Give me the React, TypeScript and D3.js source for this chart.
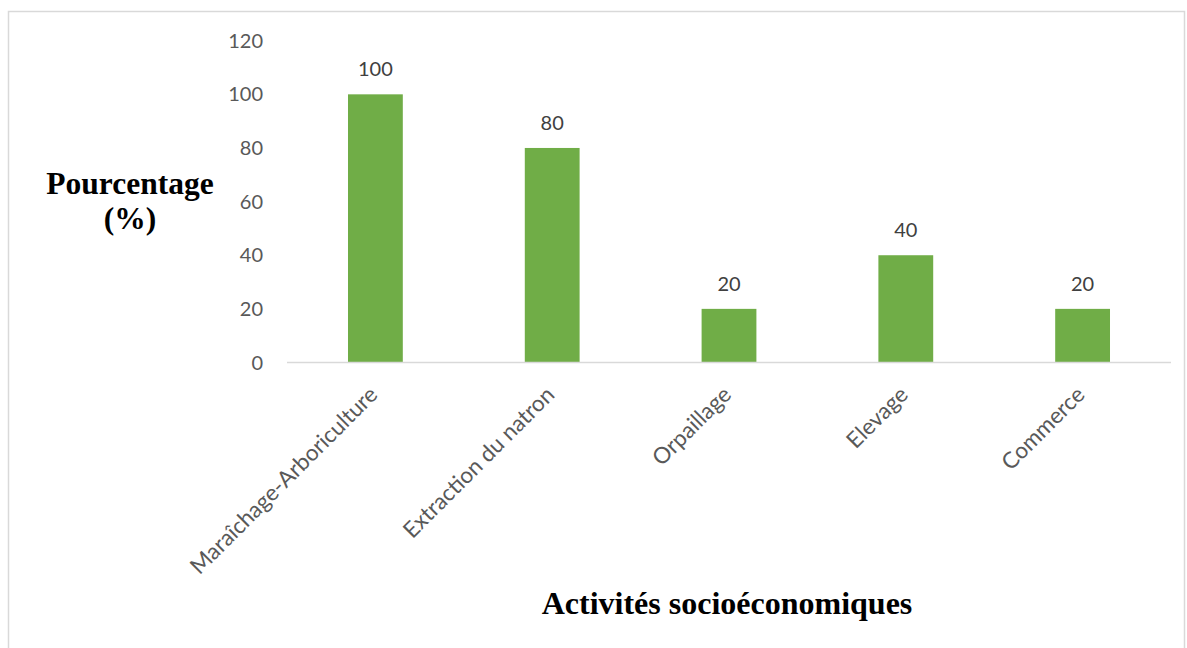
import React from "react";
import * as d3 from "d3";

const categories = ["Maraîchage-Arboriculture", "Extraction du natron", "Orpaillage", "Elevage", "Commerce"];
const values = [100, 80, 20, 40, 20];
const yTicks = [0, 20, 40, 60, 80, 100, 120];

const W = 1187;
const H = 648;
const left = 287;
const right = 1171;
const yBottom = 362.5;
const yTop = 40.7;

export default function App() {
  const x = d3.scaleBand<string>().domain(categories).range([left, right]).paddingInner(0.69).paddingOuter(0.345);
  const y = d3.scaleLinear().domain([0, 120]).range([yBottom, yTop]);
  const tickFont = "Lato, 'Open Sans', sans-serif";
  const serif = "'Liberation Serif', serif";
  return (
    <svg width={W} height={H} style={{ position: "absolute", left: 0, top: 0 }}>
      <rect x={0} y={0} width={W} height={H} fill="#fff" />
      <rect x={8.5} y={11.5} width={1176} height={660} fill="none" stroke="#d9d9d9" strokeWidth={1.5} />
      {yTicks.map((t) => (
        <text key={t} x={263} y={y(t)} dy="0.35em" textAnchor="end" fontFamily={tickFont} fontSize={20} fill="#595959">
          {t}
        </text>
      ))}
      {categories.map((c, i) => (
        <g key={c}>
          <rect x={x(c)} y={y(values[i])} width={x.bandwidth()} height={yBottom - y(values[i])} fill="#70ad47" />
          <text x={(x(c) as number) + x.bandwidth() / 2} y={y(values[i]) - 25} dy="0.35em" textAnchor="middle" fontFamily={tickFont} fontSize={20} fill="#404040">
            {values[i]}
          </text>
          <text
            transform={`translate(${(x(c) as number) + x.bandwidth() / 2 - 2},${yBottom + 28}) rotate(-45)`}
            textAnchor="end"
            dy="0.35em"
            fontFamily={tickFont}
            fontSize={22.5}
            fill="#595959"
          >
            {c}
          </text>
        </g>
      ))}
      <line x1={left} x2={right} y1={yBottom} y2={yBottom} stroke="#d9d9d9" strokeWidth={1.5} />
      <text x={130} y={194} textAnchor="middle" fontFamily={serif} fontWeight="bold" fontSize={31.5} fill="#000">
        Pourcentage
      </text>
      <text x={130} y={229} textAnchor="middle" fontFamily={serif} fontWeight="bold" fontSize={31.5} fill="#000">
        (%)
      </text>
      <text x={727} y={614} textAnchor="middle" fontFamily={serif} fontWeight="bold" fontSize={32} fill="#000">
        Activités socioéconomiques
      </text>
    </svg>
  );
}
